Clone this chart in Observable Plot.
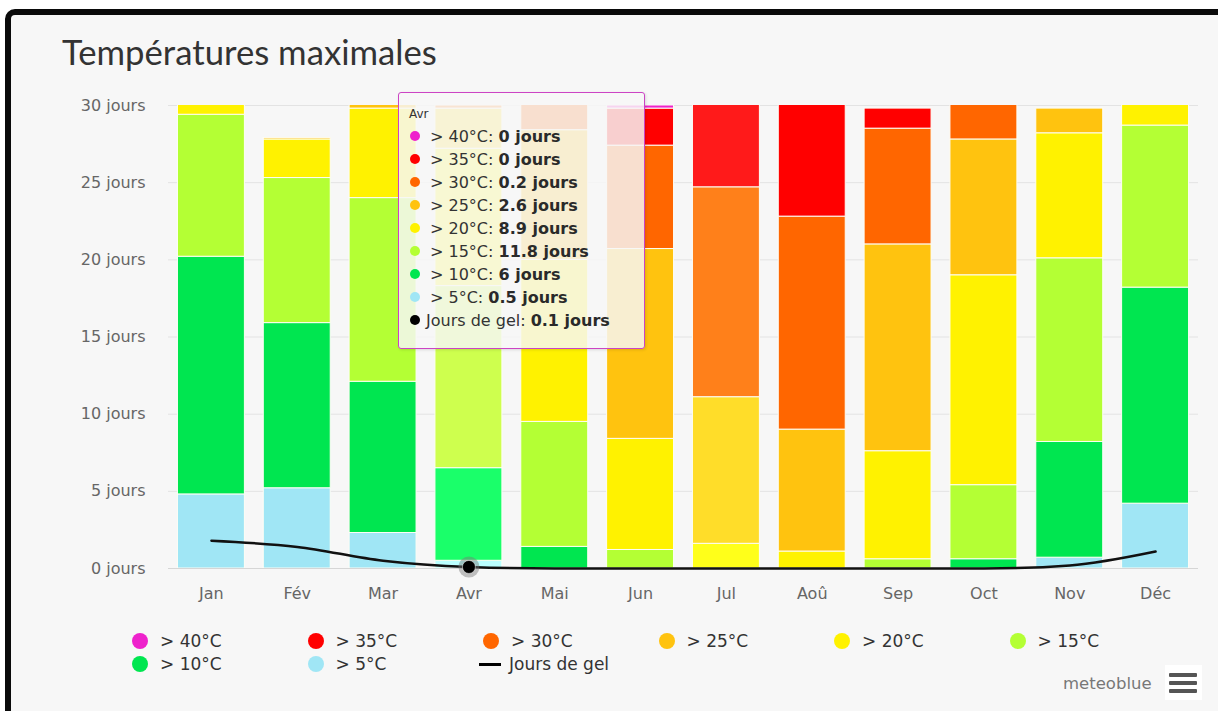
<!DOCTYPE html>
<html>
<head>
<meta charset="utf-8">
<script src="https://cdn.jsdelivr.net/npm/d3@7"></script>
<script src="https://cdn.jsdelivr.net/npm/@observablehq/plot@0.6"></script>
<style>
  html, body { margin: 0; padding: 0; }
  body { width: 1218px; height: 711px; overflow: hidden; position: relative; background: #fff; font-family: "DejaVu Sans", sans-serif; }
  #frame { position: absolute; left: 5px; top: 9px; width: 1280px; height: 780px; border: 6px solid #0a0a0a; border-radius: 10px; background: #f7f7f7; box-sizing: border-box; }
  #title { position: absolute; left: 62px; top: 31px; font-family: Lato, sans-serif; font-size: 34.7px; line-height: 1.2; color: #333; white-space: nowrap; }
  #chart { position: absolute; left: 0; top: 85px; }
  #tooltip { position: absolute; left: 398px; top: 92px; width: 247px; height: 257px; box-sizing: border-box; border: 1.5px solid #cc44c4; border-radius: 3px; background: rgba(247,247,247,0.84); box-shadow: 1px 1px 3px rgba(0,0,0,0.12); }
  #tooltip .hdr { position: absolute; left: 10px; top: 12.5px; font-size: 12px; line-height: 16px; color: #333; }
  #tooltip .row { position: absolute; left: 0; height: 23px; line-height: 23px; font-size: 16px; color: #333; white-space: nowrap; }
  #tooltip .row .dot { position: absolute; left: 11px; top: 6px; width: 10px; height: 10px; border-radius: 50%; }
  #tooltip .row .txt { position: absolute; left: 31px; top: 0; }
  #tooltip .row b { color: #2a2a2a; font-weight: 600; }
  .leg { position: absolute; height: 20px; line-height: 20px; font-size: 17px; color: #333; white-space: nowrap; }
  .leg .ldot { position: absolute; left: -8px; top: 2px; width: 16px; height: 16px; border-radius: 50%; }
  .leg .lline { position: absolute; left: -12px; top: 8.5px; width: 22px; height: 3px; background: #000; }
  .leg .ltxt { position: absolute; left: 20px; top: 0; }
  #credit { position: absolute; left: 1063px; top: 674px; font-size: 16.5px; line-height: 20px; color: #777; }
  #menu { position: absolute; left: 1165px; top: 665px; width: 37px; height: 35px; background: #fff; }
  #menu div { position: absolute; left: 4px; width: 28px; height: 4px; background: #555; border-radius: 1px; }
</style>
</head>
<body>
<div id="frame"></div>
<div id="title">Températures maximales</div>
<div id="chart"></div>
<div id="tooltip"></div>
<div id="legend"></div>
<div id="credit">meteoblue</div>
<div id="menu"><div style="top:8px"></div><div style="top:16px"></div><div style="top:24px"></div></div>
<script>
// ---- data ----
const months = ["Jan", "Fév", "Mar", "Avr", "Mai", "Jun", "Jul", "Aoû", "Sep", "Oct", "Nov", "Déc"];
// stacked from bottom to top
const seriesNames = ["> 5°C", "> 10°C", "> 15°C", "> 20°C", "> 25°C", "> 30°C", "> 35°C", "> 40°C"];
const seriesColors = ["#a0e6f5", "#00e650", "#b4ff34", "#fff200", "#ffc30f", "#ff6600", "#ff0000", "#ee22cc"];
const gt5  = [4.8, 5.2, 2.3, 0.5, 0, 0, 0, 0, 0, 0, 0.7, 4.2];
const gt10 = [15.4, 10.7, 9.8, 6, 1.4, 0, 0, 0, 0, 0.6, 7.5, 14.0];
const gt15 = [9.2, 9.4, 11.9, 11.8, 8.1, 1.2, 0, 0, 0.6, 4.8, 11.9, 10.5];
const gt20 = [1.6, 2.5, 5.8, 8.9, 10.5, 7.2, 1.6, 1.1, 7.0, 13.6, 8.1, 2.3];
const gt25 = [0, 0.1, 0.6, 2.6, 8.4, 12.3, 9.5, 7.9, 13.4, 8.8, 1.6, 0];
const gt30 = [0, 0, 0, 0.2, 2.4, 6.7, 13.6, 13.8, 7.5, 3.2, 0, 0];
const gt35 = [0, 0, 0, 0, 0.2, 2.4, 6.3, 8.2, 1.3, 0, 0, 0];
const gt40 = [0, 0, 0, 0, 0, 0.2, 0, 0, 0, 0, 0, 0];
const frostDays = [1.8, 1.4, 0.5, 0.1, 0, 0, 0, 0, 0, 0, 0.2, 1.1];
const frostName = "Jours de gel";
const yTicks = [0, 5, 10, 15, 20, 25, 30];
const hoveredMonths = ["Avr", "Jul"];
const tooltipMonth = "Avr";

const seriesValues = [gt5, gt10, gt15, gt20, gt25, gt30, gt35, gt40];

// ---- build tables ----
function brighten(c) {
  const col = d3.rgb(c);
  return d3.rgb(Math.min(255, col.r + 25.5), Math.min(255, col.g + 25.5), Math.min(255, col.b + 25.5)).formatHex();
}
const rows = [];
seriesNames.forEach((s, i) => {
  months.forEach((m, j) => {
    rows.push({ month: m, series: s, value: seriesValues[i][j], color: hoveredMonths.includes(m) ? brighten(seriesColors[i]) : seriesColors[i] });
  });
});
const frostRows = months.map((m, j) => ({ month: m, value: frostDays[j] }));
const tipIdx = months.indexOf(tooltipMonth);

const chart = Plot.plot({
  width: 1218,
  height: 530,
  marginLeft: 168,
  marginRight: 20,
  marginTop: 20,
  marginBottom: 47,
  style: { fontFamily: "DejaVu Sans, sans-serif", fontSize: "16px", color: "#666", background: "transparent", overflow: "visible" },
  x: { type: "band", domain: months, paddingInner: 0.22, paddingOuter: 0.11, round: false, tickSize: 0, tickPadding: 19, label: null },
  y: { domain: [0, 30], ticks: yTicks, tickSize: 0, tickPadding: 23, tickFormat: d => `${d} jours`, label: null },
  color: { type: "identity" },
  marks: [
    Plot.ruleY(yTicks.filter(d => d > 0), { stroke: "#e3e3e3", strokeWidth: 1 }),
    Plot.ruleY([0], { stroke: "#d6d6d6", strokeWidth: 1 }),
    Plot.barY(rows.filter(d => d.value > 0), Plot.stackY({ x: "month", y: "value", fill: "color", stroke: "#fdfdf5", strokeWidth: 1, clip: true })),
    Plot.line(frostRows, { x: "month", y: "value", curve: "monotone-x", stroke: "#111", strokeWidth: 2.5 }),
    Plot.dot([frostRows[tipIdx]], { x: "month", y: "value", r: 10.5, fill: "#777", fillOpacity: 0.45, stroke: "none" }),
    Plot.dot([frostRows[tipIdx]], { x: "month", y: "value", r: 6.5, fill: "#000", stroke: "#fff", strokeWidth: 0.5 })
  ]
});
document.getElementById("chart").appendChild(chart);

// ---- tooltip ----
const tip = document.getElementById("tooltip");
const hdr = document.createElement("div");
hdr.className = "hdr";
hdr.textContent = tooltipMonth;
tip.appendChild(hdr);
const tipItems = seriesNames.map((s, i) => ({ name: s, color: seriesColors[i], v: seriesValues[i][tipIdx] })).reverse();
tipItems.push({ name: frostName, color: "#000", v: frostDays[tipIdx] });
tipItems.forEach((it, i) => {
  const r = document.createElement("div");
  r.className = "row";
  r.style.top = (31.5 + 23 * i) + "px";
  const dot = document.createElement("span");
  dot.className = "dot";
  dot.style.background = it.color;
  const t = document.createElement("span");
  t.className = "txt";
  t.style.left = it.name === frostName ? "27px" : "31px";
  t.innerHTML = `${it.name}: <b>${it.v} jours</b>`;
  r.appendChild(dot); r.appendChild(t);
  tip.appendChild(r);
});

// ---- legend ----
const legend = document.getElementById("legend");
const legendOrder = seriesNames.map((s, i) => ({ name: s, color: seriesColors[i] })).reverse();
legendOrder.push({ name: frostName, line: true });
legendOrder.forEach((it, i) => {
  const col = i % 6, rowi = Math.floor(i / 6);
  const el = document.createElement("div");
  el.className = "leg";
  el.style.left = (140 + 175.5 * col) + "px";
  el.style.top = (631 + 23 * rowi) + "px";
  const mk = document.createElement("span");
  if (it.line) { mk.className = "lline"; } else { mk.className = "ldot"; mk.style.background = it.color; }
  const tx = document.createElement("span");
  tx.className = "ltxt";
  if (it.line) tx.style.left = "18px";
  tx.textContent = it.name;
  el.appendChild(mk); el.appendChild(tx);
  legend.appendChild(el);
});
</script>
</body>
</html>
